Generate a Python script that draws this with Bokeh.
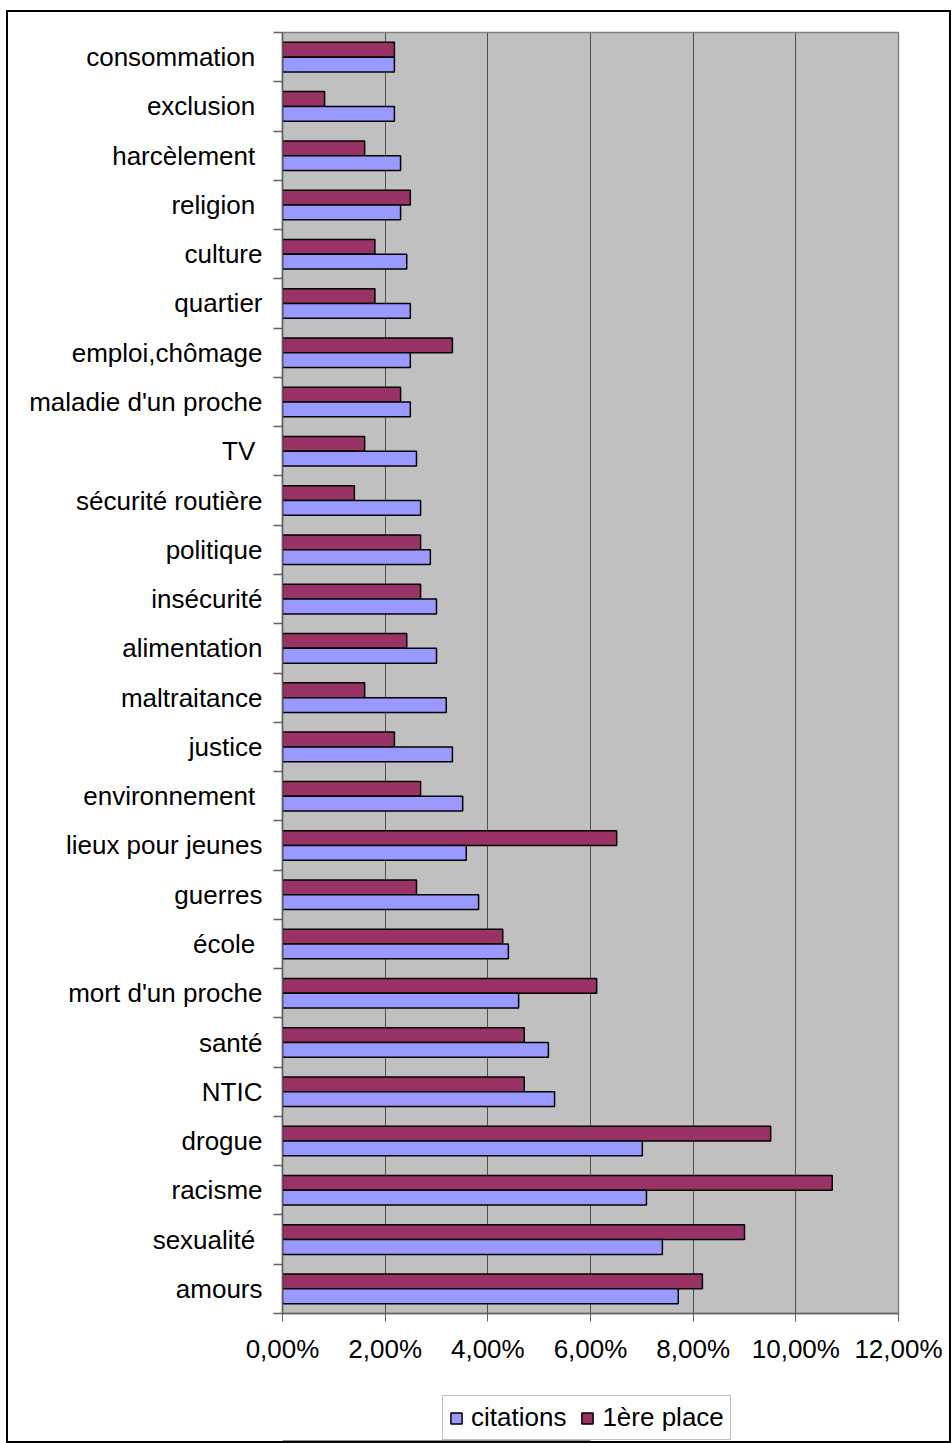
from bokeh.plotting import figure
from bokeh.layouts import column
from bokeh.models import Range1d, FixedTicker, Legend, LegendItem, ColumnDataSource
from bokeh.embed import file_html
from bokeh.resources import INLINE

categories = ["consommation", "exclusion", "harcèlement", "religion", "culture", "quartier",
              "emploi,chômage", "maladie d'un proche", "TV", "sécurité routière", "politique",
              "insécurité", "alimentation", "maltraitance", "justice", "environnement",
              "lieux pour jeunes", "guerres", "école", "mort d'un proche", "santé", "NTIC",
              "drogue", "racisme", "sexualité", "amours"]
citations = [2.18, 2.18, 2.30, 2.30, 2.42, 2.49, 2.49, 2.49, 2.61, 2.69, 2.88, 3.00, 3.00,
             3.19, 3.31, 3.51, 3.58, 3.82, 4.40, 4.60, 5.18, 5.30, 7.01, 7.09, 7.40, 7.71]
premiere = [2.18, 0.82, 1.60, 2.49, 1.80, 1.80, 3.31, 2.30, 1.60, 1.40, 2.69, 2.69, 2.42,
            1.60, 2.18, 2.69, 6.51, 2.61, 4.29, 6.12, 4.71, 4.71, 9.51, 10.71, 9.00, 8.18]
x_ticks = [0, 2, 4, 6, 8, 10, 12]
x_tick_labels = ["0,00%", "2,00%", "4,00%", "6,00%", "8,00%", "10,00%", "12,00%"]
series_names = ["citations", "1ère place"]
series_colors = ["#9999FF", "#993366"]
# labels that carry a trailing space in the original chart
trailing_space = {"consommation", "exclusion", "harcèlement", "religion", "TV",
                  "environnement", "école", "sexualité"}

n = len(categories)
centers = [i + 0.5 for i in range(n)]

FONT = "Liberation Sans"
FS = "26px"

p = figure(width=941, height=1356, output_backend="svg", toolbar_location=None,
           x_range=Range1d(0, 12), y_range=Range1d(n, 0),
           min_border_left=274, min_border_top=20, min_border_right=51, min_border_bottom=55)
p.border_fill_color = "white"
p.background_fill_color = "#C0C0C0"
p.outline_line_color = "#808080"
p.outline_line_width = 1.5

src_p = ColumnDataSource(dict(y=[c - 0.15 for c in centers], v=premiere))
src_c = ColumnDataSource(dict(y=[c + 0.15 for c in centers], v=citations))

r_p = p.hbar(y="y", right="v", left=0, height=0.3, source=src_p,
             fill_color=series_colors[1], line_color="black", line_width=1.5)
r_c = p.hbar(y="y", right="v", left=0, height=0.3, source=src_c,
             fill_color=series_colors[0], line_color="black", line_width=1.5)

# x axis
p.xaxis.ticker = FixedTicker(ticks=x_ticks)
p.xaxis.major_label_overrides = {t: l for t, l in zip(x_ticks, x_tick_labels)}
p.xaxis.major_label_text_font = FONT
p.xaxis.major_label_text_font_size = FS
p.xaxis.major_label_text_color = "black"
p.xaxis.major_label_standoff = 12
p.xaxis.axis_line_color = "#606060"
p.xaxis.axis_line_width = 1.5
p.xaxis.major_tick_line_color = "#606060"
p.xaxis.major_tick_out = 8
p.xaxis.major_tick_in = 0
p.xaxis.minor_tick_line_color = None

# y axis
p.yaxis.ticker = FixedTicker(ticks=centers, minor_ticks=list(range(n + 1)))
p.yaxis.major_label_overrides = {
    c: (name + "\u00a0" if name in trailing_space else name)
    for c, name in zip(centers, categories)}
p.yaxis.major_label_text_font = FONT
p.yaxis.major_label_text_font_size = FS
p.yaxis.major_label_text_color = "black"
p.yaxis.major_label_standoff = 11
p.yaxis.major_tick_line_color = None
p.yaxis.minor_tick_line_color = "#606060"
p.yaxis.minor_tick_out = 9
p.yaxis.minor_tick_in = 0
p.yaxis.minor_tick_line_width = 1.5
p.yaxis.axis_line_color = "#606060"
p.yaxis.axis_line_width = 1.5

p.xgrid.ticker = FixedTicker(ticks=x_ticks)
p.xgrid.grid_line_color = "#505050"
p.xgrid.grid_line_width = 1
p.ygrid.grid_line_color = None

# legend strip below the chart (its frame is aligned with the chart's frame)
p2 = figure(width=941, height=73, output_backend="svg", toolbar_location=None,
            x_range=Range1d(0, 1), y_range=Range1d(0, 1),
            min_border_left=0, min_border_right=0, min_border_top=0, min_border_bottom=0)
p2.axis.visible = False
p2.grid.grid_line_color = None
p2.outline_line_color = None
p2.background_fill_color = "white"
p2.border_fill_color = "white"
# legend-only renderers, placed outside the visible range
lr = [p2.hbar(y=[-5], right=[0.5], left=0, height=0.3, fill_color=c,
              line_color="black", line_width=1.5) for c in series_colors]

legend = Legend(items=[LegendItem(label=s, renderers=[r]) for s, r in zip(series_names, lr)],
                orientation="horizontal", location=(160, 1))
legend.label_text_font = FONT
legend.label_text_font_size = FS
legend.label_text_color = "black"
legend.glyph_width = 14
legend.glyph_height = 14
legend.label_standoff = 8
legend.spacing = 14
legend.padding = 6
legend.margin = 0
legend.border_line_color = "#808080"
legend.border_line_width = 1.5
legend.background_fill_color = "white"
legend.background_fill_alpha = 1
p2.add_layout(legend, "center")

layout = column(p, p2, spacing=0)
layout.styles = {"border": "2px solid black", "margin-left": "6px", "margin-top": "10px"}

open("out.html", "w").write(file_html(layout, INLINE))
